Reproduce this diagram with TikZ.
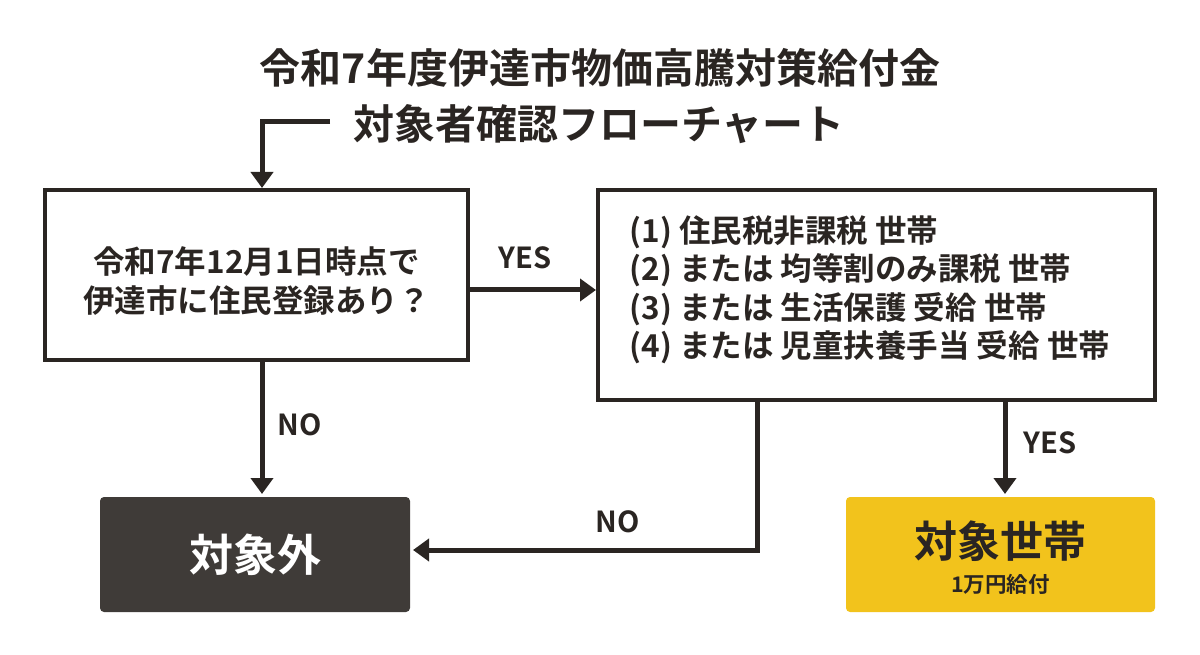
\documentclass[tikz,border=0pt]{standalone}
\usepackage{fontspec}
\setmainfont{Noto Sans CJK JP}[BoldFont={Noto Sans CJK JP Bold}]
\usetikzlibrary{arrows.meta}
\definecolor{ink}{HTML}{2A2522}
\definecolor{gold}{HTML}{F2C31C}
\begin{document}
\begin{tikzpicture}[x=1pt,y=-1pt,
  line/.style={line width=5pt,draw=ink,-{Triangle[length=16pt,width=22pt]}},
  box/.style={draw=ink,line width=4.5pt,fill=white},
  lbl/.style={font=\bfseries\fontsize{29}{32}\selectfont,text=ink}]
\useasboundingbox (0,0) rectangle (1200,655);
\node[font=\bfseries\fontsize{41}{46}\selectfont,text=ink] (t1) at (600,68) {令和7年度伊達市物価高騰対策給付金};
\node[font=\bfseries\fontsize{41}{46}\selectfont,text=ink] (t2) at (599,124) {対象者確認フローチャート};
\draw[box] (45,190) rectangle (468,360);
\node (b1) at (256.5,275) [minimum width=423pt,minimum height=170pt] {};
\node[font=\bfseries\fontsize{31.5}{39}\selectfont,align=center,text=ink] at (256.5,281) {令和7年12月1日時点で\\伊達市に住民登録あり？};
\draw[box] (598,190) rectangle (1155,400);
\node (b2) at (876.5,295) [minimum width=557pt,minimum height=210pt] {};
\node[font=\bfseries\fontsize{31.5}{38.5}\selectfont,align=left,anchor=west,text=ink] at (626,290) {(1) 住民税非課税 世帯\\(2) または 均等割のみ課税 世帯\\(3) または 生活保護 受給 世帯\\(4) または 児童扶養手当 受給 世帯};
\node[fill=ink!90,rounded corners=4pt,minimum width=310pt,minimum height=115pt,text=white,font=\bfseries\fontsize{44}{48}\selectfont] (out) at (255,554.5) {対象外};
\node[fill=gold,rounded corners=4pt,minimum width=309pt,minimum height=115pt] (tg) at (1000.5,554.5) {};
\node[font=\bfseries\fontsize{43}{46}\selectfont,text=ink] at (1000.5,541) {対象世帯};
\node[font=\bfseries\fontsize{21.5}{24}\selectfont,text=ink] at (1000.5,584) {1万円給付};
\coordinate (c1) at (262,122);
\draw[line] (330,122) -- (c1) -- (262,188);
\draw[line] (468,290) -- (596,290);
\node[lbl] at (525,258) {YES};
\draw[line] (262,360) -- (262,494);
\node[lbl] at (300,425) {NO};
\draw[line] (757,400) -- (757,550) -- (413,550);
\node[lbl] at (618,522) {NO};
\draw[line] (1005,400) -- (1005,494);
\node[lbl] at (1050,443) {YES};
\end{tikzpicture}
\end{document}
